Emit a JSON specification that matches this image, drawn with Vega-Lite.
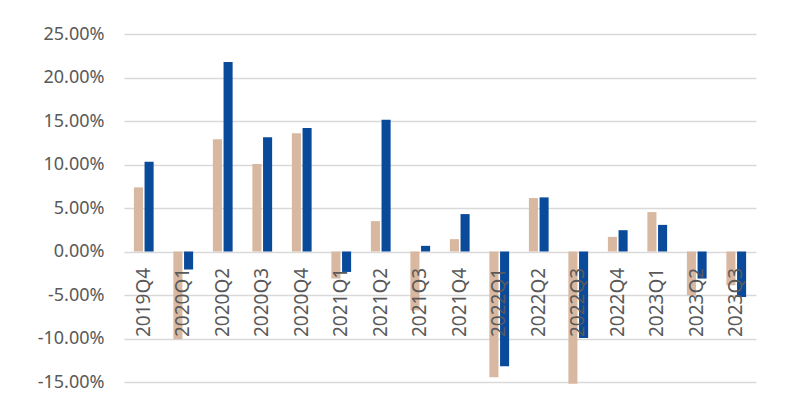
{
  "$schema": "https://vega.github.io/schema/vega-lite/v6.json",
  "width": 632,
  "height": 348,
  "autosize": {"type": "none"},
  "padding": {"left": 124, "top": 34, "right": 54, "bottom": 18},
  "background": "white",
  "config": {
    "view": {"stroke": null},
    "font": "Noto Sans",
    "locale": {"number": {"decimal": ".", "thousands": ",", "grouping": [3], "currency": ["$", ""], "minus": "-"}}
  },
  "data": {"values": [
    {"q": "2019Q4", "s": "Series 1", "v": 0.0737},
    {"q": "2019Q4", "s": "Series 2", "v": 0.1032},
    {"q": "2020Q1", "s": "Series 1", "v": -0.1010},
    {"q": "2020Q1", "s": "Series 2", "v": -0.0207},
    {"q": "2020Q2", "s": "Series 1", "v": 0.1290},
    {"q": "2020Q2", "s": "Series 2", "v": 0.2177},
    {"q": "2020Q3", "s": "Series 1", "v": 0.1006},
    {"q": "2020Q3", "s": "Series 2", "v": 0.1313},
    {"q": "2020Q4", "s": "Series 1", "v": 0.1359},
    {"q": "2020Q4", "s": "Series 2", "v": 0.1420},
    {"q": "2021Q1", "s": "Series 1", "v": -0.0311},
    {"q": "2021Q1", "s": "Series 2", "v": -0.0235},
    {"q": "2021Q2", "s": "Series 1", "v": 0.0349},
    {"q": "2021Q2", "s": "Series 2", "v": 0.1513},
    {"q": "2021Q3", "s": "Series 1", "v": -0.0676},
    {"q": "2021Q3", "s": "Series 2", "v": 0.0065},
    {"q": "2021Q4", "s": "Series 1", "v": 0.0142},
    {"q": "2021Q4", "s": "Series 2", "v": 0.0430},
    {"q": "2022Q1", "s": "Series 1", "v": -0.1445},
    {"q": "2022Q1", "s": "Series 2", "v": -0.1318},
    {"q": "2022Q2", "s": "Series 1", "v": 0.0614},
    {"q": "2022Q2", "s": "Series 2", "v": 0.0622},
    {"q": "2022Q3", "s": "Series 1", "v": -0.1520},
    {"q": "2022Q3", "s": "Series 2", "v": -0.0995},
    {"q": "2022Q4", "s": "Series 1", "v": 0.0168},
    {"q": "2022Q4", "s": "Series 2", "v": 0.0245},
    {"q": "2023Q1", "s": "Series 1", "v": 0.0453},
    {"q": "2023Q1", "s": "Series 2", "v": 0.0306},
    {"q": "2023Q2", "s": "Series 1", "v": -0.0503},
    {"q": "2023Q2", "s": "Series 2", "v": -0.0311},
    {"q": "2023Q3", "s": "Series 1", "v": -0.0388},
    {"q": "2023Q3", "s": "Series 2", "v": -0.0523}
  ]},
  "mark": {"type": "bar"},
  "encoding": {
    "x": {
      "field": "q", "type": "nominal", "sort": null, "title": null,
      "scale": {"paddingInner": 0.5, "paddingOuter": 0.25},
      "axis": {
        "orient": "bottom", "offset": -130.6, "zindex": 1,
        "grid": false, "domain": false, "ticks": false, "tickSize": 0,
        "labelAngle": -90, "labelAlign": "right", "labelBaseline": "middle",
        "labelPadding": 16, "labelFontSize": 19, "labelColor": "#595959",
        "labelOverlap": false, "labelBound": false, "labelFont": "Noto Sans"
      }
    },
    "xOffset": {
      "field": "s", "type": "nominal", "sort": ["Series 1", "Series 2"],
      "scale": {"paddingInner": 0.15, "paddingOuter": 0}
    },
    "y": {
      "field": "v", "type": "quantitative", "title": null,
      "scale": {"domain": [-0.15, 0.25], "nice": false, "zero": true},
      "axis": {
        "values": [-0.15, -0.1, -0.05, 0, 0.05, 0.1, 0.15, 0.2, 0.25],
        "format": ".2%", "zindex": 0,
        "grid": true, "gridColor": "#d9d9d9", "gridWidth": 1.3,
        "domain": false, "ticks": false, "tickSize": 0,
        "labelPadding": 20, "labelFontSize": 18, "labelColor": "#595959",
        "labelFont": "Noto Sans", "labelOverlap": false, "labelFlush": false
      }
    },
    "color": {
      "field": "s", "type": "nominal", "legend": null,
      "scale": {"domain": ["Series 1", "Series 2"], "range": ["#d8b8a0", "#0a4a9b"]}
    }
  }
}
